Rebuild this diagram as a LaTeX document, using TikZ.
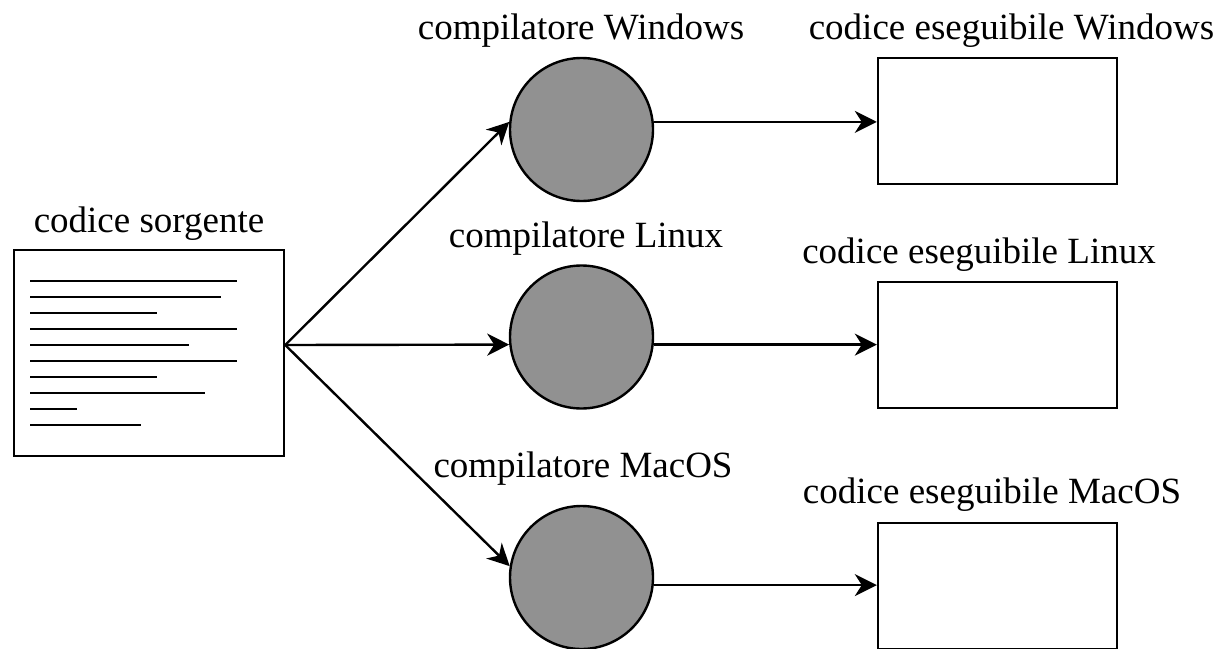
\documentclass[tikz,border=0pt]{standalone}
\usepackage{fontspec}
\setmainfont{Liberation Serif}
\usetikzlibrary{arrows.meta,positioning}
\definecolor{compgray}{RGB}{145,145,145}

\begin{document}
\begin{tikzpicture}[x=1pt,y=-1pt,line width=2.4pt,
   every node/.style={font=\fontsize{37}{44}\selectfont},
   compiler/.style={draw,circle,fill=compgray,minimum size=143pt,inner sep=0pt},
   exebox/.style={draw,rectangle,minimum width=239pt,minimum height=126pt,inner sep=0pt},
   srcbox/.style={draw,rectangle,minimum width=270pt,minimum height=206pt,inner sep=0pt},
   txt/.style={inner sep=0pt,anchor=base},
   arr/.style={-{Stealth[length=22pt,width=22pt,inset=7pt]}}]

\useasboundingbox (0,0) rectangle (1218,648);

% codice sorgente
\node[srcbox] (src) at (149,353) {};
\node[txt] (tsrc) at (149,232) {codice sorgente};
\foreach \y/\e in {281/237,297/221,313/157,329/237,345/189,361/237,377/157,393/205,409/77,425/141}
  \draw (30,\y) -- (\e,\y);
\coordinate (fork) at ([yshift=8pt]src.east);

% compilatori
\node[compiler] (cwin) at (581.5,129.5) {};
\node[compiler] (clin) at (581.5,337) {};
\node[compiler] (cmac) at (581.5,577.5) {};
\node[txt] (tcwin) at (581,39) {compilatore Windows};
\node[txt] (tclin) at (586,247) {compilatore Linux};
\node[txt] (tcmac) at (583,477) {compilatore MacOS};

% eseguibili
\node[exebox] (ewin) at (997.5,121) {};
\node[exebox] (elin) at (997.5,345) {};
\node[exebox] (emac) at (997.5,586) {};
\node[txt] (tewin) at (1011.5,39) {codice eseguibile Windows};
\node[txt] (telin) at (979,263) {codice eseguibile Linux};
\node[txt] (temac) at (992,503) {codice eseguibile MacOS};

\draw[arr] (fork) -- (cwin.174);
\draw[arr] (fork) -- (clin.186);
\draw[arr] (fork) -- (cmac.171);

\draw[arr] (cwin.6) -- (cwin.6 -| ewin.west);
\draw[arr] (clin.-6) -- (clin.-6 -| elin.west);
\draw[arr] (cmac.-6) -- (cmac.-6 -| emac.west);

\end{tikzpicture}
\end{document}
